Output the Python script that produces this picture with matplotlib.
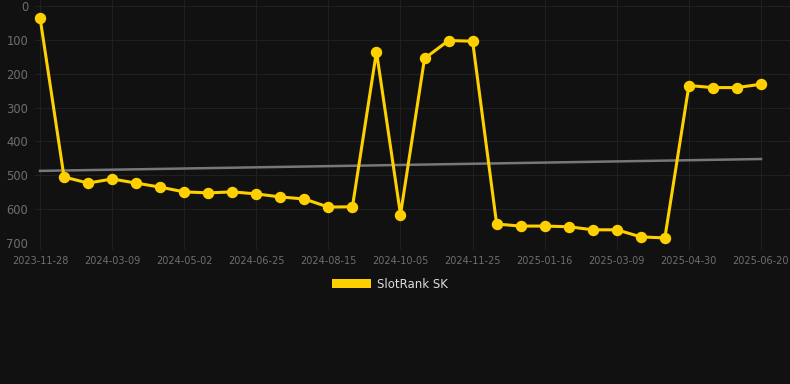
import matplotlib
matplotlib.use("Agg")
import matplotlib.pyplot as plt
from matplotlib.patches import Patch

tick_labels = ["2023-11-28", "2024-03-09", "2024-05-02", "2024-06-25", "2024-08-15",
               "2024-10-05", "2024-11-25", "2025-01-16", "2025-03-09", "2025-04-30", "2025-06-20"]
ranks = [34, 505, 523, 511, 523, 535, 549, 552, 549, 555, 564, 570, 594, 593, 135,
         616, 155, 102, 104, 644, 650, 650, 652, 661, 661, 682, 685, 235, 241, 241, 231]
trend_start, trend_end = 487, 452
series_name = "SlotRank SK"

W, H = 790, 384
fig = plt.figure(figsize=(W / 100, H / 100), dpi=100)
fig.patch.set_facecolor("#111111")
ax = fig.add_axes([35 / W, 1 - 243 / H, (790 - 35) / W, 243 / H])
ax.set_facecolor("#111111")

n = len(ranks)
xs = list(range(n))
ax.plot([0, n - 1], [trend_start, trend_end], color="#777777", lw=1.8, zorder=2)
ax.plot(xs, ranks, color="#FFD000", lw=2.2, marker="o", markersize=7.2,
        markerfacecolor="#FFD000", markeredgecolor="#FFD000", zorder=3, clip_on=False)

ax.set_xlim(-5 / 24.03, n - 1 + 29 / 24.03)
ax.set_ylim(700, -17.7)
ax.set_yticks([0, 100, 200, 300, 400, 500, 600, 700])
ax.set_xticks(xs[::3])
ax.set_xticklabels(tick_labels)
ax.grid(True, color="#202020", lw=0.8)
ax.set_axisbelow(True)
for s in ax.spines.values():
    s.set_visible(False)
ax.tick_params(axis="y", colors="#6e6e6e", labelsize=8.3, length=0, pad=5)
ax.tick_params(axis="x", colors="#6e6e6e", labelsize=7, length=4, color="#202020", pad=5)

leg = fig.legend(handles=[Patch(facecolor="#FFD000", edgecolor="none", label=series_name)],
                 loc="center", bbox_to_anchor=(390 / W, 1 - 284 / H), frameon=False,
                 fontsize=8.5, handlelength=3.3, handleheight=0.9, handletextpad=0.5)
for t in leg.get_texts():
    t.set_color("#dddddd")

fig.savefig("out.png", dpi=100, facecolor=fig.get_facecolor())
